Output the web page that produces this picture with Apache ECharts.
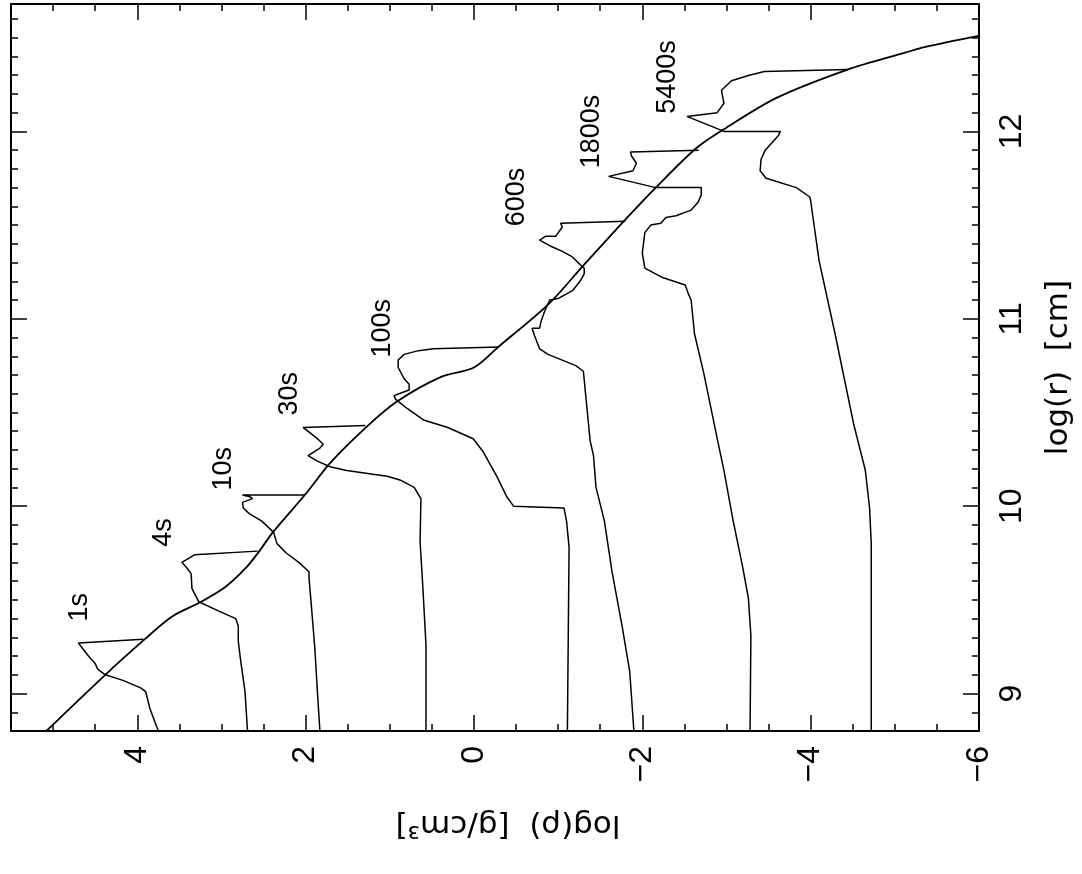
<!DOCTYPE html>
<html><head><meta charset="utf-8">
<script src="https://cdn.jsdelivr.net/npm/echarts@6/dist/echarts.min.js"></script>
<style>html,body{margin:0;padding:0;background:#fff}#c{width:1082px;height:874px}</style>
</head><body><div id="c"></div>
<script>
// Axis tick labels
const rhoTicks = [-6, -4, -2, 0, 2, 4];
const rTicks = [9, 10, 11, 12];

// Profiles: pairs of [log(r) cm, log(rho) g/cm^3]
const progenitor = [[8.80,5.08],[9.10,4.38],[9.29,3.91],[9.41,3.59],[9.49,3.24],[9.57,2.95],[9.67,2.71],[9.76,2.55],[9.86,2.39],[10.07,1.99],[10.23,1.71],[10.43,1.26],[10.56,0.91],[10.69,0.39],[10.74,0.00],[10.85,-0.29],[11.08,-0.89],[11.28,-1.29],[11.53,-1.80],[11.70,-2.16],[11.91,-2.64],[12.02,-3.00],[12.18,-3.60],[12.33,-4.44],[12.42,-5.12],[12.45,-5.35],[12.51,-6.00]];
const t1s = [[8.80,3.75],[8.92,3.85],[9.01,3.90],[9.03,3.96],[9.07,4.17],[9.10,4.38],[9.13,4.47],[9.16,4.50],[9.20,4.58],[9.27,4.70],[9.29,3.93]];
const t4s = [[8.80,2.69],[9.01,2.72],[9.17,2.77],[9.28,2.80],[9.36,2.80],[9.40,2.83],[9.44,3.03],[9.49,3.27],[9.56,3.35],[9.64,3.36],[9.67,3.41],[9.70,3.47],[9.74,3.32],[9.75,3.30],[9.76,2.57]];
const t10s = [[8.80,1.83],[9.01,1.86],[9.24,1.89],[9.46,1.93],[9.62,1.96],[9.65,1.96],[9.70,2.08],[9.75,2.23],[9.80,2.34],[9.86,2.38],[9.92,2.52],[9.96,2.67],[9.99,2.74],[10.02,2.75],[10.04,2.63],[10.05,2.66],[10.06,2.75],[10.06,2.01]];
const t30s = [[8.80,0.57],[9.26,0.57],[9.59,0.61],[9.81,0.64],[10.04,0.63],[10.10,0.71],[10.14,0.88],[10.16,1.03],[10.17,1.20],[10.19,1.51],[10.21,1.71],[10.24,1.86],[10.27,1.97],[10.28,1.95],[10.31,1.83],[10.33,1.79],[10.36,1.86],[10.42,2.03],[10.43,1.29]];
const t100s = [[8.80,-1.11],[9.78,-1.13],[9.92,-1.10],[9.99,-1.07],[10.00,-0.47],[10.05,-0.39],[10.16,-0.27],[10.29,-0.11],[10.36,0.01],[10.42,0.31],[10.46,0.60],[10.52,0.79],[10.57,0.93],[10.59,0.95],[10.60,0.89],[10.62,0.77],[10.65,0.77],[10.68,0.83],[10.74,0.90],[10.78,0.90],[10.81,0.83],[10.83,0.66],[10.84,0.48],[10.85,0.47],[10.85,-0.30]];
const t600s = [[8.80,-1.90],[9.12,-1.85],[9.36,-1.76],[9.65,-1.64],[9.92,-1.55],[10.10,-1.45],[10.27,-1.42],[10.35,-1.38],[10.72,-1.30],[10.75,-1.21],[10.81,-0.88],[10.84,-0.78],[10.91,-0.72],[10.95,-0.69],[10.95,-0.78],[10.99,-0.80],[11.04,-0.84],[11.10,-0.90],[11.11,-1.01],[11.15,-1.17],[11.20,-1.26],[11.24,-1.31],[11.27,-1.31],[11.29,-1.26],[11.33,-1.17],[11.36,-1.05],[11.39,-0.90],[11.42,-0.78],[11.43,-0.76],[11.44,-0.85],[11.44,-0.97],[11.49,-1.05],[11.51,-1.03],[11.52,-1.02],[11.52,-1.80]];
const t1800s = [[8.80,-3.28],[9.31,-3.29],[9.51,-3.26],[9.68,-3.19],[9.92,-3.08],[10.19,-2.97],[10.36,-2.89],[10.71,-2.73],[10.92,-2.62],[11.10,-2.58],[11.13,-2.55],[11.18,-2.51],[11.22,-2.24],[11.27,-2.03],[11.35,-2.00],[11.46,-2.03],[11.50,-2.10],[11.51,-2.22],[11.54,-2.28],[11.55,-2.40],[11.58,-2.58],[11.62,-2.66],[11.66,-2.70],[11.70,-2.70],[11.70,-2.16],[11.76,-1.60],[11.79,-1.89],[11.83,-1.93],[11.87,-1.87],[11.89,-1.86],[11.90,-2.67]];
const t5400s = [[8.80,-4.72],[9.54,-4.72],[9.80,-4.72],[9.99,-4.70],[10.19,-4.65],[10.44,-4.51],[10.68,-4.40],[10.92,-4.29],[11.31,-4.10],[11.63,-4.00],[11.65,-3.99],[11.70,-3.83],[11.75,-3.47],[11.79,-3.40],[11.85,-3.41],[11.90,-3.46],[11.98,-3.62],[12.00,-3.64],[12.00,-2.97],[12.08,-2.53],[12.10,-2.89],[12.15,-2.97],[12.22,-2.94],[12.27,-3.06],[12.30,-3.27],[12.32,-3.45],[12.33,-4.44]];

// Time labels and where they sit (log r, log rho)
const timeNames = ['1s','4s','10s','30s','100s','600s','1800s','5400s'];
const timeLabelR = [9.46, 9.86, 10.20, 10.60, 10.95, 11.65, 12.00, 12.29];
const timeLabelRho = [4.68, 3.69, 2.98, 2.19, 1.09, -0.51, -1.40, -2.30];

const RHO_MIN = -6, RHO_MAX = 5.5, R_MIN = 8.8, R_MAX = 12.68;

const rhoMinor = [];
for (let k = -12; k <= 11; k++) rhoMinor.push(k / 2);
const rMinor = [];
for (let k = 88; k <= 126; k++) rMinor.push(k / 10);

const BLACK = '#000';
const lineAx = {show: true, onZero: false, lineStyle: {color: BLACK, width: 2}};
const minus = v => String(v).replace('-', '\u2212');

function xAx(position, ticks, len, extra) {
  return Object.assign({
    type: 'value', gridIndex: 0, position: position, inverse: true,
    min: RHO_MIN, max: RHO_MAX,
    axisLine: lineAx,
    axisTick: {show: true, inside: true, length: len, customValues: ticks, lineStyle: {color: BLACK, width: 1.5}},
    axisLabel: {show: false},
    splitLine: {show: false}
  }, extra || {});
}
function yAx(position, ticks, len, extra) {
  return Object.assign({
    type: 'value', gridIndex: 0, position: position,
    min: R_MIN, max: R_MAX,
    axisLine: lineAx,
    axisTick: {show: true, inside: true, length: len, customValues: ticks, lineStyle: {color: BLACK, width: 1.5}},
    axisLabel: {show: false},
    splitLine: {show: false}
  }, extra || {});
}

const toXY = arr => arr.map(p => [p[1], p[0]]);
const profiles = [progenitor, t1s, t4s, t10s, t30s, t100s, t600s, t1800s, t5400s];
const profileNames = ['progenitor','1s','4s','10s','30s','100s','600s','1800s','5400s'];

const series = profiles.map((arr, i) => ({
  name: profileNames[i], type: 'line', xAxisIndex: 0, yAxisIndex: 0,
  data: toXY(arr), symbol: 'none', smooth: i === 0 ? 0.3 : false, clip: true,
  lineStyle: {color: BLACK, width: i === 0 ? 1.8 : 1.5},
  silent: true, z: 3
}));
series.push({
  type: 'scatter', xAxisIndex: 0, yAxisIndex: 0, silent: true,
  symbolSize: 0.01, itemStyle: {color: BLACK, opacity: 1},
  data: timeNames.map((n, i) => ({name: n, value: [timeLabelRho[i], timeLabelR[i]]})),
  label: {show: true, position: 'inside', formatter: '{b}', rotate: 90,
    fontFamily: 'Liberation Sans', fontSize: 27, color: BLACK, opacity: 1,
    textBorderWidth: 0, align: 'center', verticalAlign: 'middle'},
  labelLayout: {hideOverlap: false},
  z: 4
});

const chart = echarts.init(document.getElementById('c'), null, {renderer: 'canvas'});
chart.setOption({
  backgroundColor: '#fff',
  animation: false,
  grid: {left: 11, right: 102, top: 4, bottom: 143, containLabel: false},
  xAxis: [
    xAx('bottom', rhoTicks, 16, {
      axisLabel: {show: true, customValues: rhoTicks, rotate: 90, margin: 15,
        fontFamily: 'Liberation Sans', fontSize: 32, color: BLACK,
        align: 'right', verticalAlign: 'middle', formatter: minus},
      name: 'log(\u03c1)  [g/cm\u00b3]', nameLocation: 'middle', nameGap: 78, nameRotate: 180,
      nameTextStyle: {fontFamily: 'DejaVu Sans', fontSize: 31, color: BLACK, padding: [0, 26, 0, 0]}
    }),
    xAx('bottom', rhoMinor, 7),
    xAx('top', rhoTicks, 16),
    xAx('top', rhoMinor, 7)
  ],
  yAxis: [
    yAx('right', rTicks, 16, {
      axisLabel: {show: true, customValues: rTicks, rotate: 90, margin: 17,
        fontFamily: 'Liberation Sans', fontSize: 32, color: BLACK,
        align: 'center', verticalAlign: 'top'},
      name: 'log(r)  [cm]', nameLocation: 'middle', nameGap: 64, nameRotate: 90,
      nameTextStyle: {fontFamily: 'DejaVu Sans', fontSize: 31, color: BLACK}
    }),
    yAx('right', rMinor, 7),
    yAx('left', rTicks, 16),
    yAx('left', rMinor, 7)
  ],
  series: series
});
</script>
</body></html>
